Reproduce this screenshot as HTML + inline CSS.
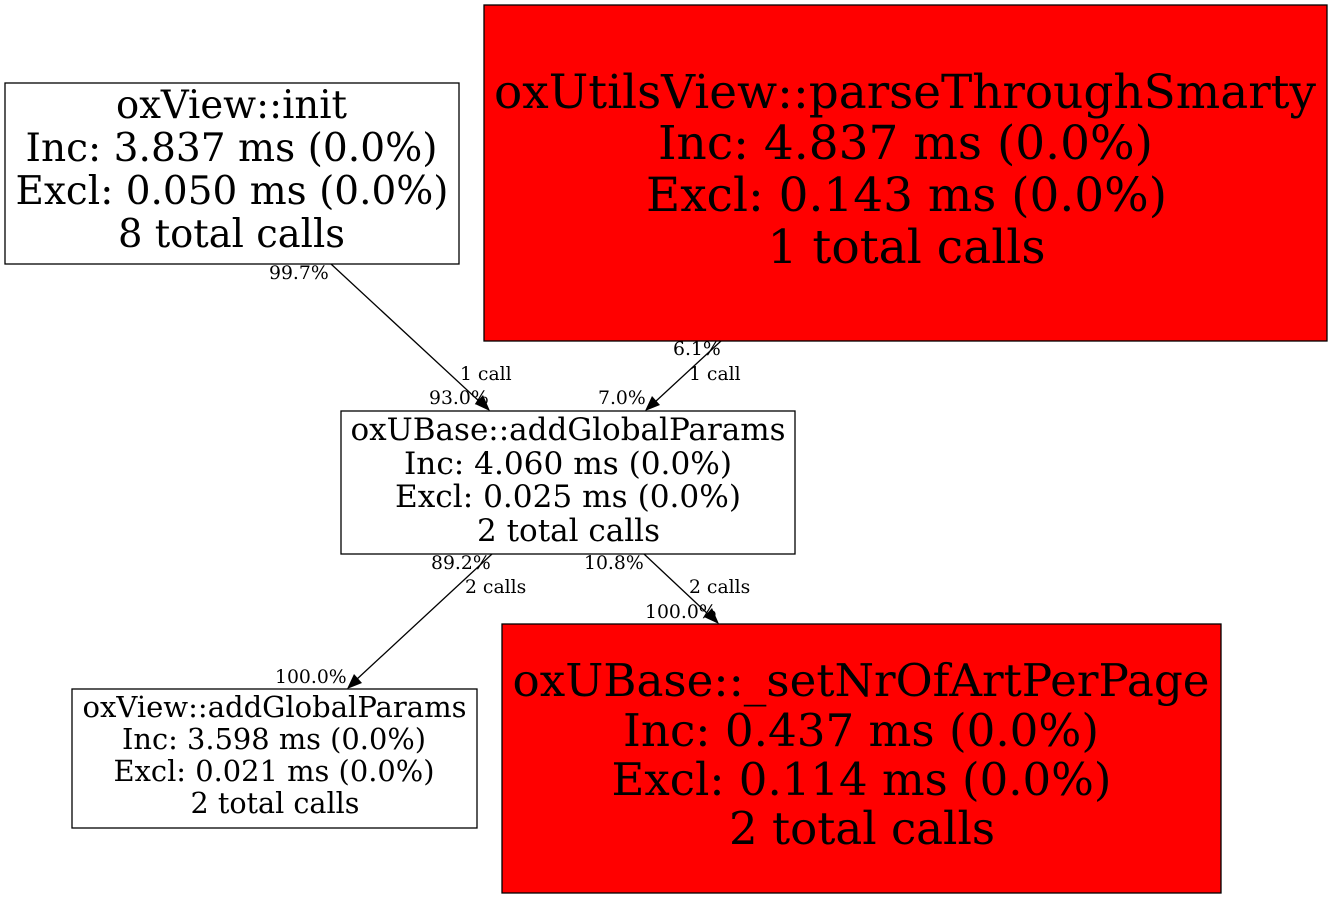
<!DOCTYPE html>
<html><head><meta charset="utf-8"><style>
html,body{margin:0;padding:0;background:#fff}
svg{display:block}
text{font-family:"DejaVu Serif",serif;fill:#000;text-anchor:middle}
.e{font-size:18.8px;text-anchor:start}
rect{stroke:#000;stroke-width:1.3}
line{stroke:#000;stroke-width:1.3}
</style></head><body>
<svg width="1332" height="899" viewBox="0 0 1332 899" xmlns="http://www.w3.org/2000/svg">
<rect x="5" y="83" width="454" height="181" fill="#fff"/>
<g font-size="38.8">
<text x="231.5" y="118" textLength="231" lengthAdjust="spacingAndGlyphs">oxView::init</text>
<text x="231.5" y="161" textLength="412" lengthAdjust="spacingAndGlyphs">Inc: 3.837 ms (0.0%)</text>
<text x="232" y="204" textLength="433" lengthAdjust="spacingAndGlyphs">Excl: 0.050 ms (0.0%)</text>
<text x="231.5" y="247" textLength="227" lengthAdjust="spacingAndGlyphs">8 total calls</text>
</g>
<rect x="484" y="5" width="843" height="336" fill="#f00"/>
<g font-size="47">
<text x="905" y="108" textLength="822" lengthAdjust="spacingAndGlyphs">oxUtilsView::parseThroughSmarty</text>
<text x="905.5" y="159" textLength="495" lengthAdjust="spacingAndGlyphs">Inc: 4.837 ms (0.0%)</text>
<text x="906.5" y="211" textLength="521" lengthAdjust="spacingAndGlyphs">Excl: 0.143 ms (0.0%)</text>
<text x="906.5" y="263" textLength="278" lengthAdjust="spacingAndGlyphs">1 total calls</text>
</g>
<rect x="341" y="411" width="454" height="143" fill="#fff"/>
<g font-size="30.9">
<text x="568" y="440" textLength="435" lengthAdjust="spacingAndGlyphs">oxUBase::addGlobalParams</text>
<text x="568" y="474" textLength="328" lengthAdjust="spacingAndGlyphs">Inc: 4.060 ms (0.0%)</text>
<text x="568" y="507" textLength="346" lengthAdjust="spacingAndGlyphs">Excl: 0.025 ms (0.0%)</text>
<text x="568.5" y="541" textLength="183" lengthAdjust="spacingAndGlyphs">2 total calls</text>
</g>
<rect x="72" y="689" width="405" height="139" fill="#fff"/>
<g font-size="29">
<text x="274.5" y="717" textLength="384" lengthAdjust="spacingAndGlyphs">oxView::addGlobalParams</text>
<text x="274" y="749" textLength="304" lengthAdjust="spacingAndGlyphs">Inc: 3.598 ms (0.0%)</text>
<text x="274" y="781" textLength="321" lengthAdjust="spacingAndGlyphs">Excl: 0.021 ms (0.0%)</text>
<text x="275" y="813" textLength="169" lengthAdjust="spacingAndGlyphs">2 total calls</text>
</g>
<rect x="502" y="624" width="719" height="269" fill="#f00"/>
<g font-size="45.2">
<text x="861" y="696" textLength="697" lengthAdjust="spacingAndGlyphs">oxUBase::_setNrOfArtPerPage</text>
<text x="861" y="746" textLength="476" lengthAdjust="spacingAndGlyphs">Inc: 0.437 ms (0.0%)</text>
<text x="861.5" y="795" textLength="500" lengthAdjust="spacingAndGlyphs">Excl: 0.114 ms (0.0%)</text>
<text x="862" y="844" textLength="266" lengthAdjust="spacingAndGlyphs">2 total calls</text>
</g>
<line x1="331" y1="264" x2="480" y2="402"/>
<polygon points="490,411 475,404 483,395" fill="#000"/>
<line x1="721" y1="341" x2="655" y2="402"/>
<polygon points="645,411 652,396 660,405" fill="#000"/>
<line x1="492" y1="554" x2="356" y2="680"/>
<polygon points="347,689 354,674 362,683" fill="#000"/>
<line x1="644" y1="554" x2="709" y2="615"/>
<polygon points="719,624 704,617 712,608" fill="#000"/>
<text class="e" x="269" y="279">99.7%</text>
<text class="e" x="460" y="380">1 call</text>
<text class="e" x="429" y="404">93.0%</text>
<text class="e" x="673" y="355">6.1%</text>
<text class="e" x="689" y="380">1 call</text>
<text class="e" x="598" y="404">7.0%</text>
<text class="e" x="431" y="569">89.2%</text>
<text class="e" x="465" y="593">2 calls</text>
<text class="e" x="584" y="569">10.8%</text>
<text class="e" x="689" y="593">2 calls</text>
<text class="e" x="645" y="618">100.0%</text>
<text class="e" x="275" y="683">100.0%</text>
</svg>
</body></html>
